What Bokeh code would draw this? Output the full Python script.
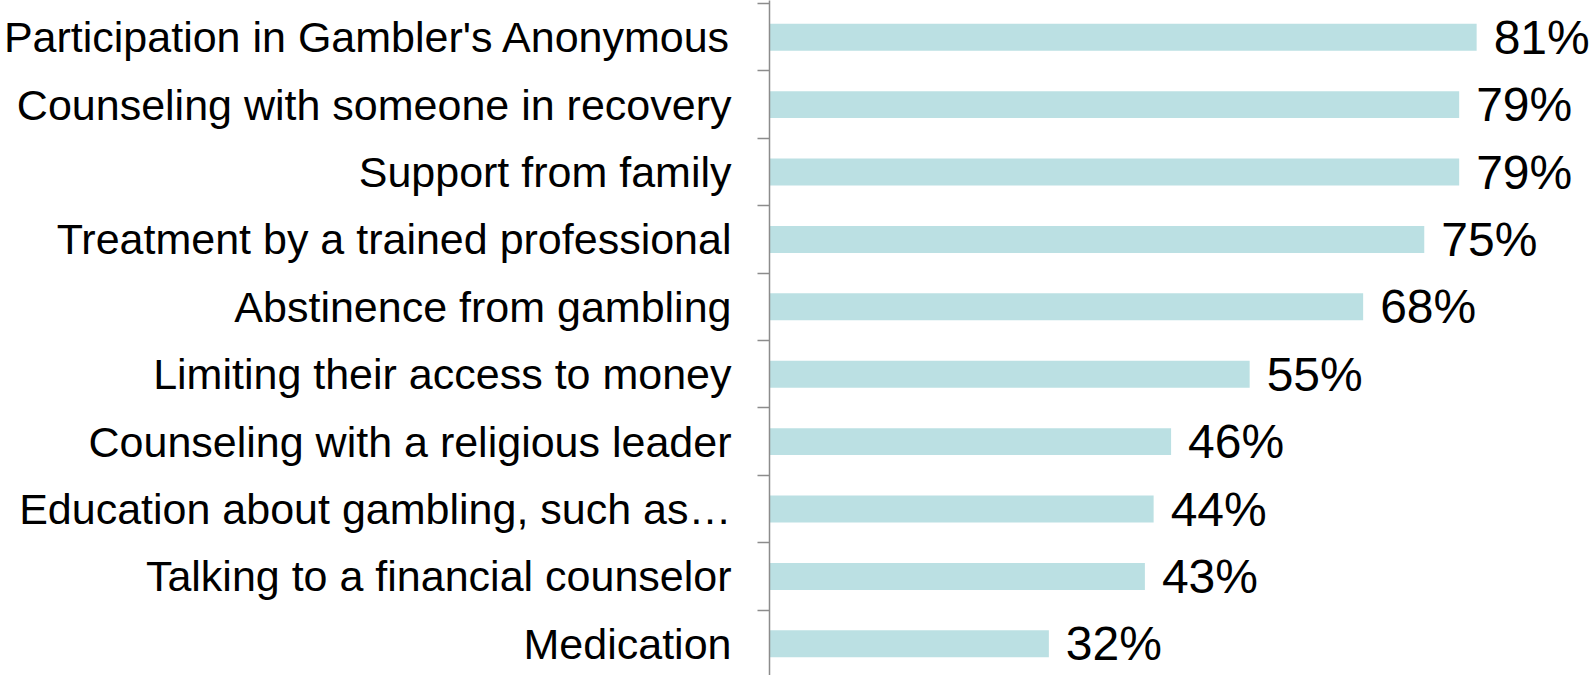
from bokeh.plotting import figure
from bokeh.models import ColumnDataSource, Range1d, FixedTicker, LabelSet
from bokeh.core.properties import value
from bokeh.embed import file_html
from bokeh.resources import INLINE

categories = [
    "Participation in Gambler's Anonymous",
    "Counseling with someone in recovery",
    "Support from family",
    "Treatment by a trained professional",
    "Abstinence from gambling",
    "Limiting their access to money",
    "Counseling with a religious leader",
    "Education about gambling, such as\u2026",
    "Talking to a financial counselor",
    "Medication",
]
values = [81, 79, 79, 75, 68, 55, 46, 44, 43, 32]
value_labels = [f"{v}%" for v in values]

n = len(categories)
ypos = [n - 0.5 - i for i in range(n)]

src = ColumnDataSource(dict(y=ypos, v=values, lab=value_labels, cat=categories))

p = figure(width=1594, height=675, output_backend="svg", toolbar_location=None,
           x_range=Range1d(0, 94.5), y_range=Range1d(0.03, 10.045),
           min_border_left=767, min_border_right=0, min_border_top=0, min_border_bottom=0)
p.outline_line_color = None
p.grid.visible = False
p.xaxis.visible = False

p.hbar(y="y", right="v", left=0, height=0.4, source=src, color="#bbe0e3", line_color=None)

labels = LabelSet(x="v", y="y", text="lab", source=src, x_offset=17,
                  text_baseline="middle", text_align="left",
                  text_font=value("Liberation Sans"), text_font_size="48px", text_color="black")
p.add_layout(labels)

ax = p.yaxis[0]
ax.ticker = FixedTicker(ticks=ypos, minor_ticks=list(range(0, n + 1)))
ax.major_label_overrides = {y: c for y, c in zip(ypos, categories)}
ax.major_tick_out = 0
ax.major_tick_in = 0
ax.minor_tick_out = 12
ax.minor_tick_in = 0
ax.minor_tick_line_color = "#8c8c8c"
ax.minor_tick_line_width = 1.5
ax.axis_line_color = "#8c8c8c"
ax.axis_line_width = 1.5
ax.major_label_standoff = 26
ax.major_label_text_font = "Liberation Sans"
ax.major_label_text_font_size = "43px"
ax.major_label_text_color = "black"

open("out.html", "w").write(file_html(p, INLINE))
